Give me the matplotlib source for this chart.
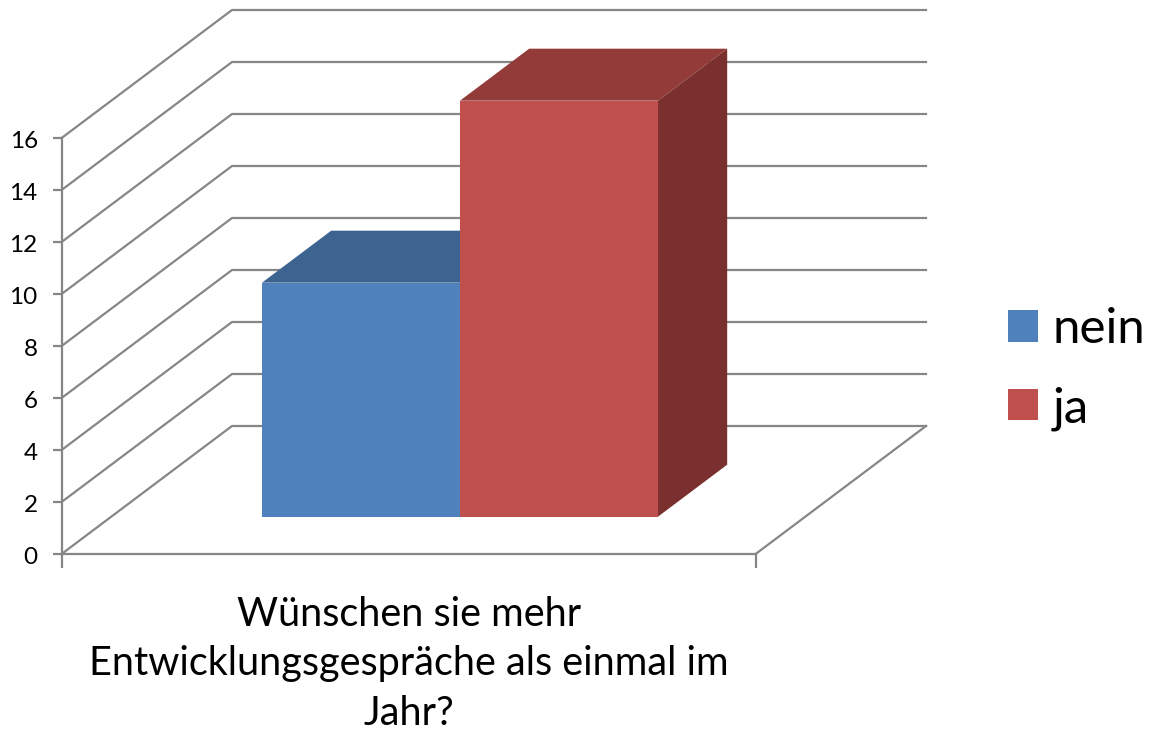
import matplotlib
matplotlib.use('Agg')
import matplotlib.pyplot as plt
from matplotlib.patches import Patch
from matplotlib.transforms import ScaledTranslation

plt.rcParams['font.family'] = ['Lato', 'DejaVu Sans']

# data
series_names = ['nein', 'ja']
series_values = [9, 16]
series_colors = ['#4F81BD', '#C0504D']
top_colors = ['#3D6390', '#923B39']
side_colors = ['#345479', '#7A302E']
y_ticks = [0, 2, 4, 6, 8, 10, 12, 14, 16]
category = 'Wünschen sie mehr\nEntwicklungsgespräche als einmal im\nJahr?'

# pixel geometry of the fake 3d box
W, H = 1154, 733
x0_px, x1_px = 62, 756
y0_px, unit_px = 553.7, 26
depth_dx = 170 / (x1_px - x0_px)  # x units for full depth
depth_dy = 127.7 / unit_px        # value units for full depth
bar_w = 198 / (x1_px - x0_px)
bar_start = 150.7 / (x1_px - x0_px)
d_front, d_back = 0.29, 0.697
grid_col = '#868686'


def px(x, v, d):
    # oblique projection, depth d runs 0..1
    return x + d * depth_dx, v + d * depth_dy


fig = plt.figure(figsize=(W / 100, H / 100), dpi=100)
ax = fig.add_axes([0, 0, 1, 1])
ax.set_xlim(-x0_px / (x1_px - x0_px), (W - x0_px) / (x1_px - x0_px))
ax.set_ylim((y0_px - H) / unit_px, y0_px / unit_px)

# walls and floor
for v in y_ticks:
    xa, ya = px(0, v, 1)
    xb, yb = px(1, v, 1)
    ax.plot([0, xa, xb], [v, ya, yb], color=grid_col, lw=1.6, zorder=1, solid_joinstyle='miter')
xa, ya = px(1, 0, 1)
ax.plot([1, xa], [0, ya], color=grid_col, lw=1.6, zorder=1)

# bars
for i in range(len(series_values)):
    val = series_values[i]
    left = bar_start + i * bar_w
    right = left + bar_w
    z = 2 + i
    base = d_front * depth_dy
    xf, _ = px(left, 0, d_front)
    ax.bar(xf, val, width=bar_w, bottom=base, align='edge', color=series_colors[i], lw=0, zorder=z + 0.2)
    top = [px(left, val, d_front), px(right, val, d_front), px(right, val, d_back), px(left, val, d_back)]
    ax.fill([p[0] for p in top], [p[1] for p in top], color=top_colors[i], lw=0, zorder=z)
    side = [px(right, 0, d_front), px(right, 0, d_back), px(right, val, d_back), px(right, val, d_front)]
    ax.fill([p[0] for p in side], [p[1] for p in side], color=side_colors[i], lw=0, zorder=z + 0.1)

# axes
for s in ['top', 'right']:
    ax.spines[s].set_visible(False)
ax.spines['left'].set_position(('data', 0))
ax.spines['left'].set_bounds(0, 16)
ax.spines['bottom'].set_position(('data', 0))
ax.spines['bottom'].set_bounds(0, 1)
for s in ['left', 'bottom']:
    ax.spines[s].set_color(grid_col)
    ax.spines[s].set_linewidth(1.6)
ax.set_yticks(y_ticks)
ax.set_xticks([0, 1])
ax.set_xticklabels([])
ax.tick_params(axis='y', length=6.5, width=1.6, color=grid_col, pad=11, labelsize=17.5, labelcolor='black')
ax.tick_params(axis='x', length=10, width=1.6, color=grid_col)
nudge = ScaledTranslation(0, -1.5 / 100, fig.dpi_scale_trans)
for lab in ax.get_yticklabels():
    lab.set_transform(lab.get_transform() + nudge)

ax.text(0.5, -1.62, category, ha='center', va='top', fontsize=28.5, linespacing=1.42, color='black')

handles = [Patch(color=c, lw=0) for c in series_colors]
ax.legend(handles, series_names, loc='center left', bbox_to_anchor=(1008 / W, 1 - 369 / H),
          bbox_transform=fig.transFigure, frameon=False, fontsize=35.5, handlelength=0.61,
          handleheight=0.61, handletextpad=0.3, labelspacing=0.7, borderpad=0, borderaxespad=0)

fig.savefig('out.png', dpi=100)
